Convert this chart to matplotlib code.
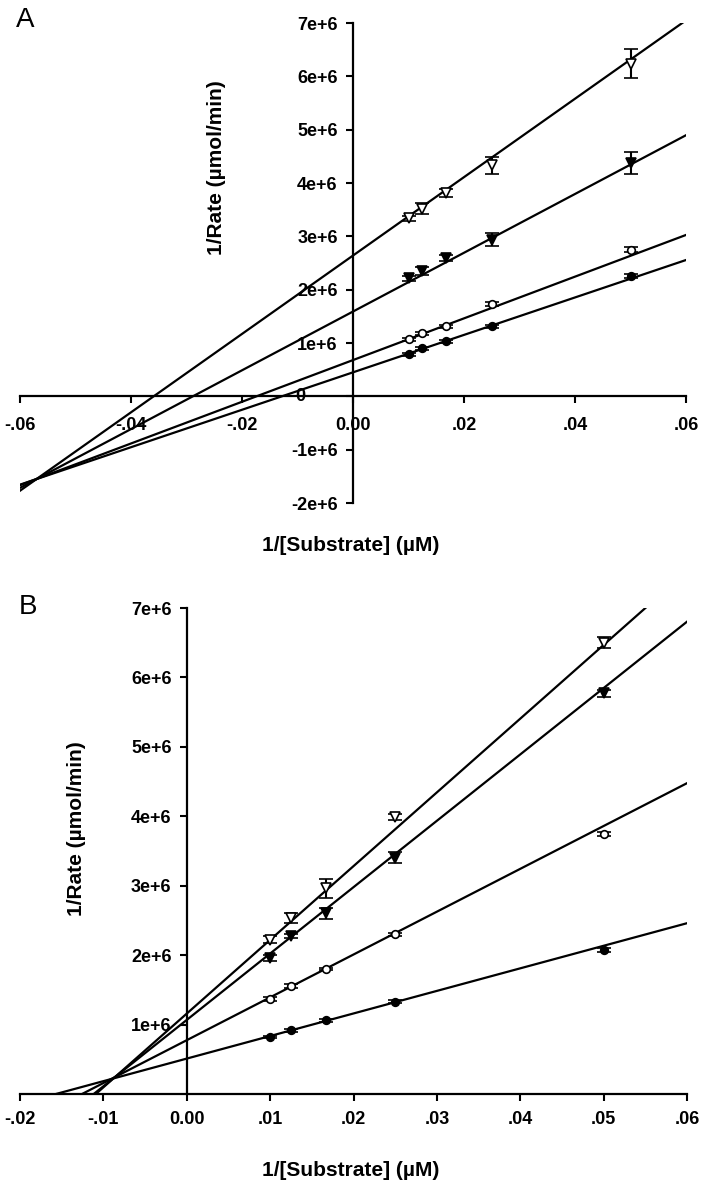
import numpy as np
import matplotlib
matplotlib.use("Agg")
import matplotlib.pyplot as plt

plt.rcParams['font.family'] = ['Liberation Sans', 'DejaVu Sans']
plt.rcParams['font.weight'] = 'bold'

# 1/[S] values (1/100, 1/80, 1/60, 1/40, 1/20 uM)
x_inv = [0.01, 0.0125, 0.0167, 0.025, 0.05]

# Panel A : 1/rate (x 1e6) and error bars
a_open_tri = [3.34, 3.52, 3.81, 4.33, 6.24]
a_open_tri_err = [0.05, 0.10, 0.08, 0.16, 0.27]
a_fill_tri = [2.21, 2.35, 2.59, 2.94, 4.37]
a_fill_tri_err = [0.05, 0.07, 0.06, 0.12, 0.21]
a_open_circ = [1.07, 1.18, 1.31, 1.73, 2.75]
a_open_circ_err = [0.03, 0.03, 0.03, 0.03, 0.05]
a_fill_circ = [0.79, 0.90, 1.03, 1.31, 2.25]
a_fill_circ_err = [0.03, 0.03, 0.03, 0.03, 0.04]
# fitted lines (global fit): intercept (x 1e6), slope (x 1e6)
a_intercepts = [2.64, 1.59, 0.68, 0.45]
a_slopes = [73.5, 55.1, 39.1, 35.1]

# Panel B
b_open_tri = [2.22, 2.53, 2.96, 3.99, 6.50]
b_open_tri_err = [0.05, 0.07, 0.13, 0.05, 0.08]
b_fill_tri = [1.96, 2.27, 2.60, 3.40, 5.77]
b_fill_tri_err = [0.04, 0.03, 0.08, 0.08, 0.05]
b_open_circ = [1.37, 1.55, 1.80, 2.30, 3.75]
b_open_circ_err = [0.03, 0.03, 0.02, 0.02, 0.03]
b_fill_circ = [0.82, 0.92, 1.06, 1.33, 2.07]
b_fill_circ_err = [0.02, 0.02, 0.02, 0.02, 0.03]
b_intercepts = [1.158, 1.067, 0.775, 0.51]
b_slopes = [106.2, 95.6, 61.7, 32.5]

a_xticks = [-0.06, -0.04, -0.02, 0.0, 0.02, 0.04, 0.06]
a_xlabels = ['-.06', '-.04', '-.02', '0.00', '.02', '.04', '.06']
a_yticks = [-2, -1, 0, 1, 2, 3, 4, 5, 6, 7]
b_xticks = [-0.02, -0.01, 0.0, 0.01, 0.02, 0.03, 0.04, 0.05, 0.06]
b_xlabels = ['-.02', '-.01', '0.00', '.01', '.02', '.03', '.04', '.05', '.06']
b_yticks = [1, 2, 3, 4, 5, 6, 7]

styles = [('v', 'white', 6.5), ('v', 'black', 6.5), ('o', 'white', 5.5), ('o', 'black', 5.5)]


def panel(ax, series, errs, icpts, slopes, xlim, ylim):
    xs = np.array(x_inv)
    xline = np.linspace(xlim[0], xlim[1], 200)
    for (mk, fc, ms), ys, es, b, k in zip(styles, series, errs, icpts, slopes):
        ax.plot(xline, (k * xline + b) * 1e6, color='black', lw=1.6, zorder=2)
        ax.errorbar(xs, np.array(ys) * 1e6, yerr=np.array(es) * 1e6, fmt=mk,
                    color='black', mfc=fc, mec='black', mew=1.2, ms=ms,
                    ecolor='black', elinewidth=1.5, capsize=4.7, capthick=1.8,
                    zorder=3)
    ax.set_xlim(xlim)
    ax.set_ylim(ylim)
    for s in ['top', 'right']:
        ax.spines[s].set_visible(False)
    ax.spines['left'].set_position(('data', 0))
    ax.spines['bottom'].set_position(('data', 0))
    for s in ['left', 'bottom']:
        ax.spines[s].set_linewidth(1.6)
        ax.spines[s].set_zorder(2)
    ax.tick_params(direction='out', length=5, width=1.5, labelsize=13)
    ax.patch.set_alpha(0)


fig = plt.figure(figsize=(7.06, 11.86), dpi=100)

# ---- A
axA = fig.add_axes([20 / 706, 1 - 503 / 1186, 666 / 706, 480 / 1186])
panel(axA, [a_open_tri, a_fill_tri, a_open_circ, a_fill_circ],
      [a_open_tri_err, a_fill_tri_err, a_open_circ_err, a_fill_circ_err],
      a_intercepts, a_slopes, (-0.06, 0.06), (-2e6, 7e6))
axA.set_xticks(a_xticks)
axA.set_xticklabels(a_xlabels)
axA.set_yticks([v * 1e6 for v in a_yticks])
axA.set_yticklabels(['' if v == 0 else '%de+6' % v for v in a_yticks])
axA.tick_params(axis='x', pad=10)
axA.tick_params(axis='y', pad=6)
axA.annotate('0', xy=(0, 0), xytext=(-53, 0), textcoords='offset pixels',
             ha='center', va='center', fontsize=13)

fig.text(25 / 706, 1 - 20 / 1186, 'A', fontsize=20, fontweight='normal',
         ha='center', va='center')
fig.text(216 / 706, 1 - 168 / 1186, '1/Rate (µmol/min)', rotation=90,
         fontsize=15, ha='center', va='center')
fig.text(351 / 706, 1 - 546 / 1186, '1/[Substrate] (µM)', fontsize=15,
         ha='center', va='center')

# ---- B
axB = fig.add_axes([20 / 706, 1 - 1094 / 1186, 667 / 706, 486 / 1186])
panel(axB, [b_open_tri, b_fill_tri, b_open_circ, b_fill_circ],
      [b_open_tri_err, b_fill_tri_err, b_open_circ_err, b_fill_circ_err],
      b_intercepts, b_slopes, (-0.02, 0.06), (0, 7e6))
axB.set_xticks(b_xticks)
axB.set_xticklabels(b_xlabels)
axB.set_yticks([v * 1e6 for v in b_yticks])
axB.set_yticklabels(['%de+6' % v for v in b_yticks])
axB.tick_params(axis='x', pad=7)
axB.tick_params(axis='y', pad=6)

fig.text(28 / 706, 1 - 607 / 1186, 'B', fontsize=20, fontweight='normal',
         ha='center', va='center')
fig.text(77 / 706, 1 - 829 / 1186, '1/Rate (µmol/min)', rotation=90,
         fontsize=15, ha='center', va='center')
fig.text(351 / 706, 1 - 1171 / 1186, '1/[Substrate] (µM)', fontsize=15,
         ha='center', va='center')

fig.savefig('out.png', dpi=100, facecolor='white')
